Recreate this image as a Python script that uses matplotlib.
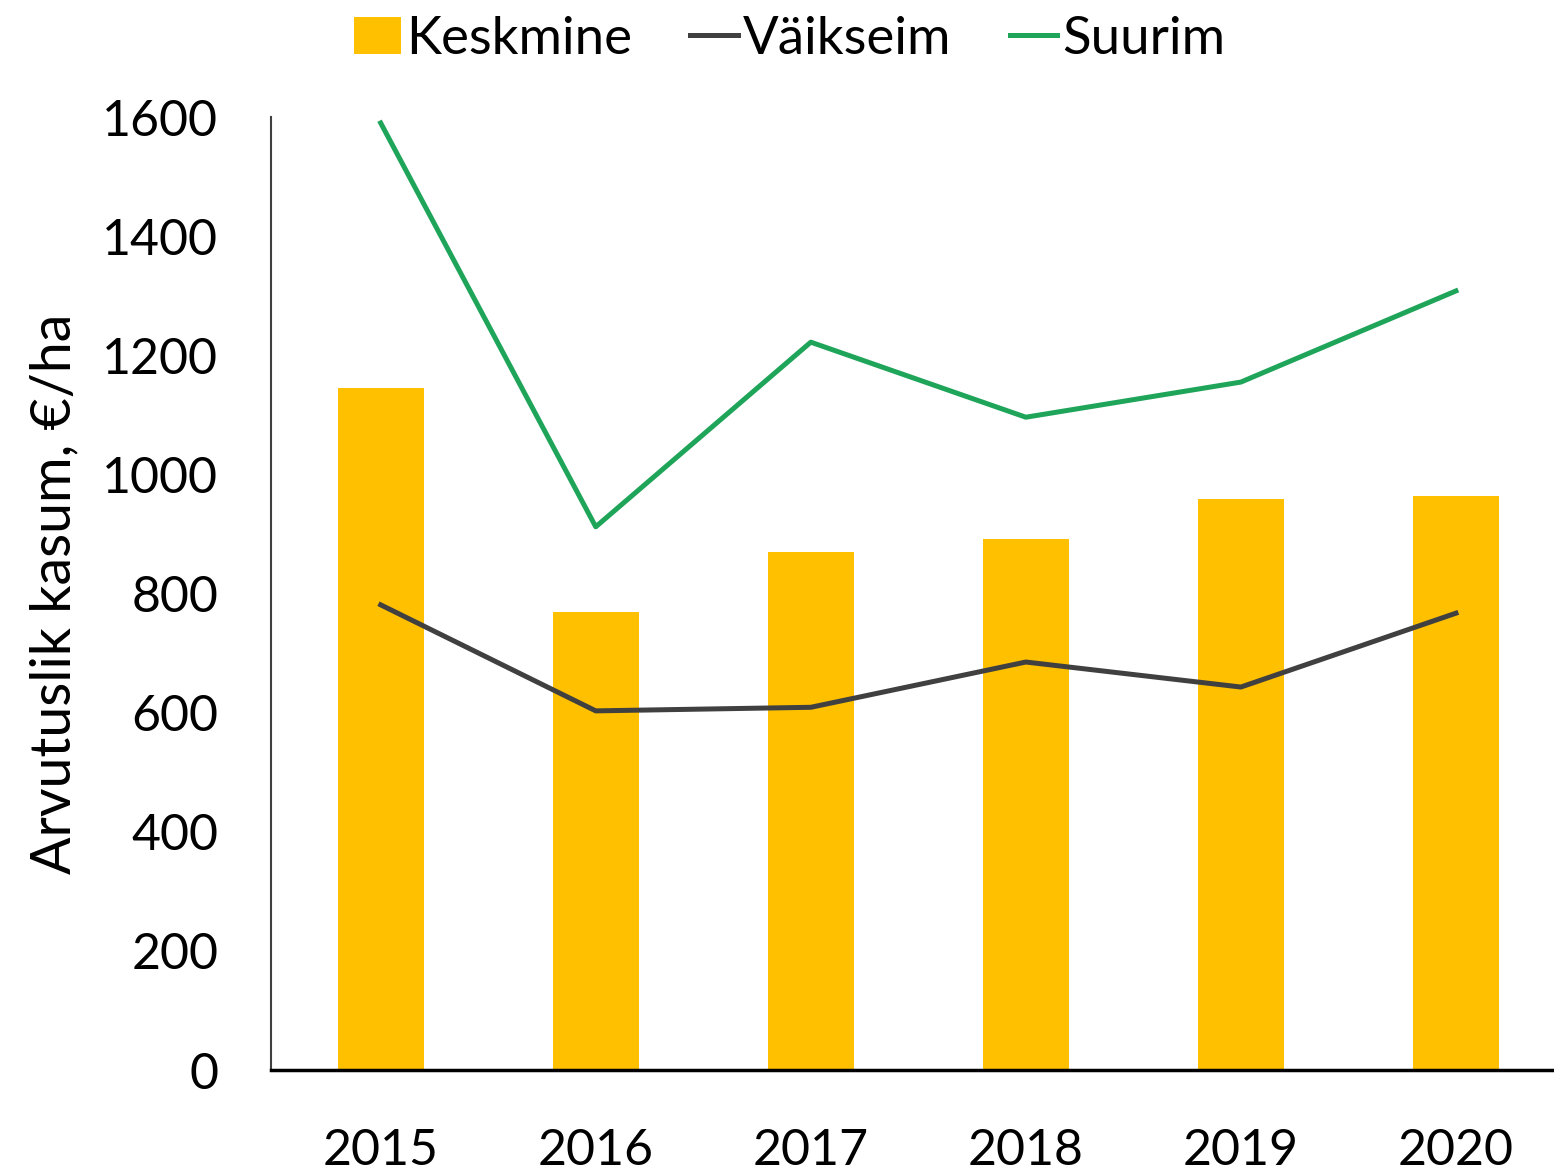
import matplotlib.pyplot as plt
import numpy as np

plt.rcParams['font.family'] = ['Lato', 'DejaVu Sans']

years = ['2015', '2016', '2017', '2018', '2019', '2020']
keskmine = [1145, 769, 870, 891, 959, 964]
vaikseim = [781, 603, 609, 685, 643, 767]
suurim = [1590, 912, 1222, 1096, 1155, 1308]

x = np.arange(len(years))

fig = plt.figure(figsize=(15.54, 11.76), dpi=100)
ax = fig.add_axes([0.1744, 0.0901, 0.8256, 0.8104])

b = ax.bar(x, keskmine, width=0.4, color='#FFC000', label='Keskmine', zorder=1)
l1, = ax.plot(x, vaikseim, color='#404040', lw=3.6, label='Väikseim', zorder=2)
l2, = ax.plot(x, suurim, color='#1fa55a', lw=3.6, label='Suurim', zorder=2)

ax.set_ylim(0, 1600)
ax.set_xlim(-0.51, 5.456)
ax.set_yticks(range(0, 1601, 200))
ax.set_xticks(x)
ax.set_xticklabels(years)
ax.tick_params(axis='both', length=0, labelsize=36, colors='black')
ax.tick_params(axis='y', pad=38)
ax.tick_params(axis='x', pad=42)

for s in ['top', 'right']:
    ax.spines[s].set_visible(False)
ax.spines['left'].set_color('#404040')
ax.spines['left'].set_linewidth(1.5)
ax.spines['bottom'].set_color('black')
ax.spines['bottom'].set_linewidth(2.5)

ax.set_ylabel('Arvutuslik kasum, €/ha', fontsize=40, labelpad=16)

fig.legend([b, l1, l2], ['Keskmine', 'Väikseim', 'Suurim'],
           loc='upper center', bbox_to_anchor=(0.508, 1.027), ncol=3, frameon=False,
           fontsize=38, handlelength=0.9, handletextpad=0.1, columnspacing=1.1)

fig.savefig('out.png', dpi=100)
